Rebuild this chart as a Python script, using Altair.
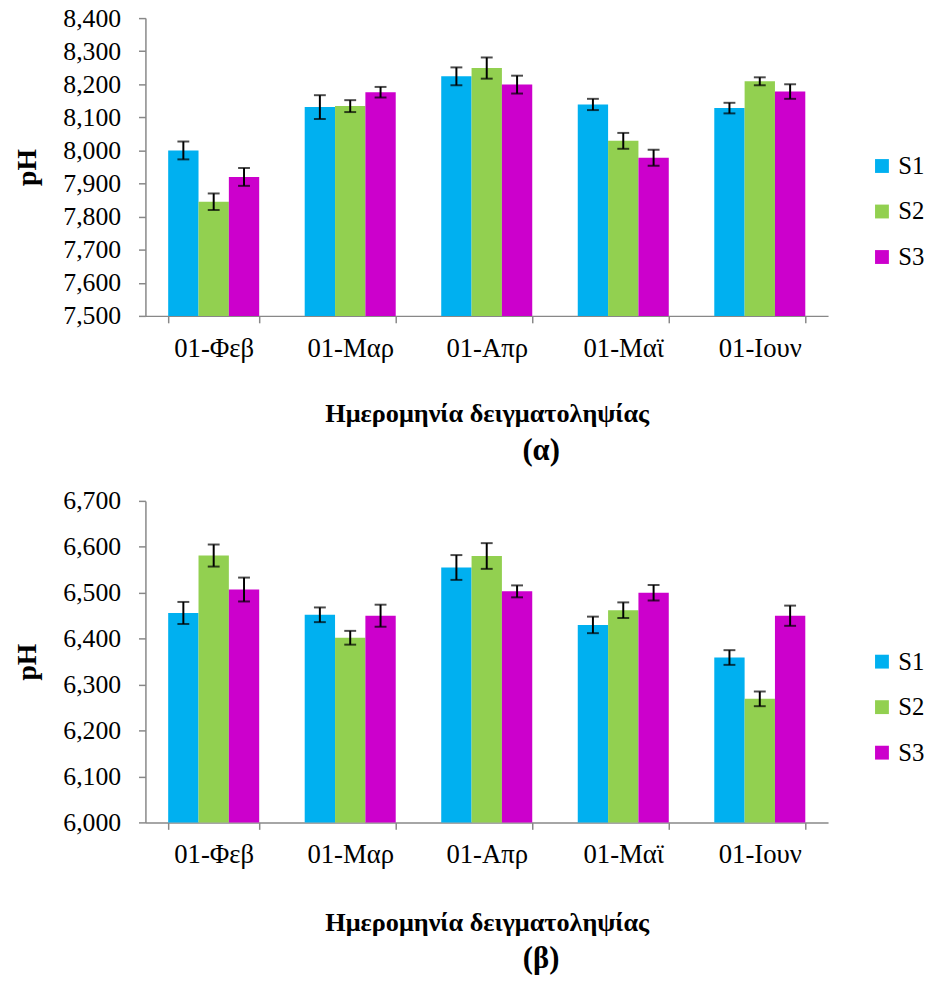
import altair as alt
import pandas as pd

dates = ["01-Φεβ", "01-Μαρ", "01-Απρ", "01-Μαϊ", "01-Ιουν"]
series = ["S1", "S2", "S3"]
colors = ["#00B0F0", "#92D050", "#CC00CC"]

# Panel (α)
a_s1 = [8.000, 8.131, 8.224, 8.139, 8.128]
a_s2 = [7.845, 8.134, 8.249, 8.029, 8.209]
a_s3 = [7.920, 8.176, 8.199, 7.978, 8.178]
a_e1 = [0.027, 0.036, 0.027, 0.017, 0.016]
a_e2 = [0.025, 0.018, 0.032, 0.024, 0.012]
a_e3 = [0.027, 0.016, 0.027, 0.024, 0.022]

# Panel (β)
b_s1 = [6.456, 6.452, 6.555, 6.430, 6.359]
b_s2 = [6.581, 6.402, 6.580, 6.462, 6.269]
b_s3 = [6.507, 6.450, 6.503, 6.500, 6.450]
b_e1 = [0.024, 0.016, 0.027, 0.018, 0.016]
b_e2 = [0.024, 0.015, 0.028, 0.017, 0.016]
b_e3 = [0.026, 0.024, 0.013, 0.017, 0.022]

a_ticks = [7.5, 7.6, 7.7, 7.8, 7.9, 8.0, 8.1, 8.2, 8.3, 8.4]
b_ticks = [6.0, 6.1, 6.2, 6.3, 6.4, 6.5, 6.6, 6.7]

FONT = "Liberation Serif"


def make_df(vals, errs, base):
    rows = []
    for s, v, e in zip(series, vals, errs):
        for d, vv, ee in zip(dates, v, e):
            rows.append({"date": d, "series": s, "value": vv, "base": base,
                         "lower": vv - ee, "upper": vv + ee})
    return pd.DataFrame(rows)


def panel(df, ticks, label, legend_y, title_pad):
    lo, hi = ticks[0], ticks[-1]
    x_scale = alt.Scale(paddingInner=1/3, paddingOuter=1/6)
    x_axis = alt.Axis(labelAngle=0, tickBand="extent", labelFont=FONT,
                      labelFontSize=27, labelColor="black", labelPadding=13,
                      titleFont=FONT, titleFontSize=26.5, titleFontWeight="bold",
                      titleColor="black", titlePadding=title_pad,
                      domainColor="#888888", tickColor="#888888",
                      tickSize=7, domainWidth=1.5, tickWidth=1.5)
    xt = "Ημερομηνία δειγματοληψίας"
    xo = alt.XOffset("series:N", sort=series, scale=alt.Scale(paddingInner=0, paddingOuter=0))
    y_scale = alt.Scale(domain=[lo, hi], nice=False, zero=False)
    y_axis = alt.Axis(values=ticks, labelExpr="replace(format(datum.value, '.3f'), '.', ',')",
                      labelFont=FONT, labelFontSize=26, labelColor="black", labelPadding=18,
                      labelOverlap=False,
                      titleFont=FONT, titleFontSize=28, titleFontWeight="bold",
                      titleColor="black", titlePadding=22, grid=False,
                      domainColor="#888888", tickColor="#888888", tickSize=7,
                      domainWidth=1.5, tickWidth=1.5)
    bars = alt.Chart(df).mark_bar().encode(
        x=alt.X("date:N", sort=dates, title=xt, scale=x_scale, axis=x_axis),
        xOffset=xo,
        y=alt.Y("value:Q", scale=y_scale, axis=y_axis, title="pH"),
        y2="base:Q",
        color=alt.Color("series:N", sort=series,
                        scale=alt.Scale(domain=series, range=colors),
                        legend=alt.Legend(title=None, orient="none", legendX=732,
                                          legendY=legend_y, symbolType="square",
                                          symbolSize=196, symbolStrokeWidth=0,
                                          labelFont=FONT, labelFontSize=25,
                                          labelColor="black", rowPadding=20,
                                          labelOffset=4)),
    )
    rules = alt.Chart(df).mark_rule(color="black", strokeWidth=2).encode(
        x=alt.X("date:N", sort=dates, title=xt, scale=x_scale, axis=x_axis), xOffset=xo,
        y=alt.Y("lower:Q", scale=y_scale, axis=y_axis, title="pH"), y2="upper:Q",
    )
    caps = alt.Chart(df).transform_fold(["lower", "upper"], as_=["cap", "cv"]).mark_tick(
        color="black", thickness=2, size=12, orient="horizontal"
    ).encode(
        x=alt.X("date:N", sort=dates, title=xt, scale=x_scale, axis=x_axis), xOffset=xo,
        y=alt.Y("cv:Q", scale=y_scale, axis=y_axis, title="pH"),
    )
    return alt.layer(bars, rules, caps).properties(
        title=alt.TitleParams(label, orient="bottom", anchor="middle", dx=55,
                              font=FONT, fontSize=31, fontWeight="bold",
                              color="black", offset=9),
    )


top = panel(make_df([a_s1, a_s2, a_s3], [a_e1, a_e2, a_e3], a_ticks[0]), a_ticks, "(α)", 137, 40).properties(
    width=690, height=301)
bottom = panel(make_df([b_s1, b_s2, b_s3], [b_e1, b_e2, b_e3], b_ticks[0]), b_ticks, "(β)", 150, 42).properties(
    width=690, height=325)

chart = alt.vconcat(top, bottom, spacing=22).resolve_scale(color="independent").properties(
    padding={"left": 13, "top": 0, "right": 0, "bottom": 0}, background="white"
).configure_view(strokeWidth=0)

chart.save("out.html", embed_options={"renderer": "svg", "actions": False})
